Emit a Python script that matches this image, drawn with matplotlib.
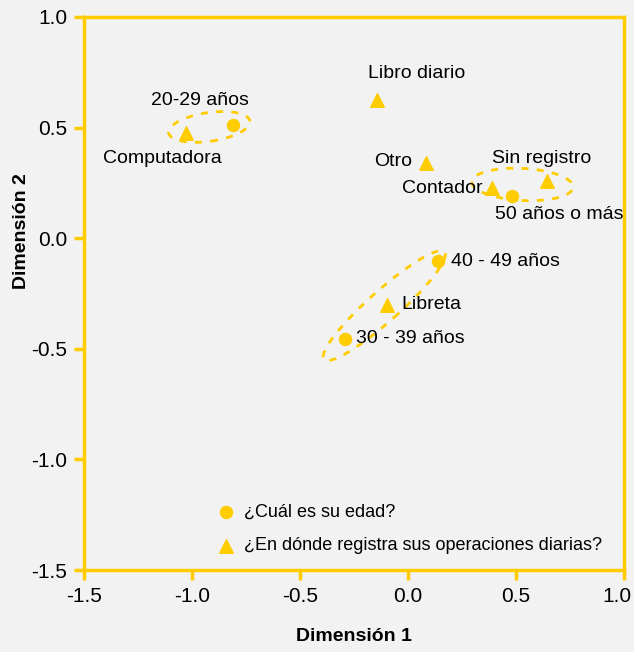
import numpy as np
import matplotlib.pyplot as plt
import matplotlib.transforms as mtransforms
from matplotlib.patches import Ellipse

plt.rcParams['font.family'] = ['Liberation Sans', 'DejaVu Sans']

gold = "#FFCC00"
bg = "#F2F2F2"

# edad (circulos)
edad_lab = ["20-29 años", "30 - 39 años", "40 - 49 años", "50 años o más"]
edad_x = [-0.81, -0.29, 0.14, 0.48]
edad_y = [0.51, -0.455, -0.105, 0.19]

# registro (triangulos)
reg_lab = ["Computadora", "Libro diario", "Otro", "Contador", "Sin registro", "Libreta"]
reg_x = [-1.03, -0.145, 0.085, 0.39, 0.645, -0.095]
reg_y = [0.475, 0.625, 0.34, 0.225, 0.26, -0.30]

# offsets de etiquetas (puntos) y alineacion
edad_off = [((-24, 18), "center"), ((8, 0), "left"), ((9, 0), "left"), ((34, -13), "center")]
reg_off = [((-17, -18), "center"), ((29, 19), "center"), ((-10, 1), "right"),
           ((-7, 0), "right"), ((-4, 16), "center"), ((10, 0), "left")]

fig = plt.figure(figsize=(6.34, 6.52), dpi=100, facecolor=bg)
ax = fig.add_axes([84/634, 82/652, 540/634, 553/652])
ax.set_facecolor(bg)

ax.scatter(edad_x, edad_y, marker="o", s=75, color=gold, zorder=3,
           label="¿Cuál es su edad?")
ax.scatter(reg_x, reg_y, marker="^", s=95, color=gold, zorder=3,
           label="¿En dónde registra sus operaciones diarias?")

for lab, x, y, (off, ha) in zip(edad_lab, edad_x, edad_y, edad_off):
    ax.annotate(lab, (x, y), xytext=off, textcoords="offset points",
                ha=ha, va="center", fontsize=14)
for lab, x, y, (off, ha) in zip(reg_lab, reg_x, reg_y, reg_off):
    ax.annotate(lab, (x, y), xytext=off, textcoords="offset points",
                ha=ha, va="center", fontsize=14)

# grupos
for c, w, h, a in [((-0.92, 0.503), 0.38, 0.13, 8),
                   ((0.53, 0.243), 0.47, 0.145, -3),
                   ((-0.11, -0.305), 0.74, 0.14, 41)]:
    ax.add_patch(Ellipse(c, w, h, angle=a, fill=False, ec=gold, lw=2,
                         ls=(0, (2.5, 3)), zorder=2))

ax.set_xlim(-1.5, 1.0)
ax.set_ylim(-1.5, 1.0)
ax.set_xticks(np.arange(-1.5, 1.01, 0.5))
ax.set_yticks(np.arange(-1.5, 1.01, 0.5))
ax.set_xticklabels(["-1.5", "-1.0", "-0.5", "0.0", "0.5", "1.0"])
ax.set_yticklabels(["-1.5", "-1.0", "-0.5", "0.0", "0.5", "1.0"])
for s in ax.spines.values():
    s.set_color(gold)
    s.set_linewidth(2.5)
ax.tick_params(colors=gold, labelcolor="black", width=2.5, length=7,
               labelsize=15, pad=5)
# el ultimo tick no debe salirse de la figura
last = ax.get_xticklabels()[-1]
last.set_transform(last.get_transform() +
                   mtransforms.ScaledTranslation(-7/100, 0, fig.dpi_scale_trans))

ax.set_xlabel("Dimensión 1", fontsize=14, fontweight="bold", labelpad=16)
ax.set_ylabel("Dimensión 2", fontsize=14, fontweight="bold")
ax.yaxis.set_label_coords(-0.1, 0.613)

ax.legend(loc="lower left", bbox_to_anchor=(0.225, 0.015), frameon=False,
          fontsize=13, handletextpad=0.25, handlelength=1.5,
          labelspacing=0.95, borderaxespad=0)

fig.savefig("out.png", dpi=100, facecolor=bg)
